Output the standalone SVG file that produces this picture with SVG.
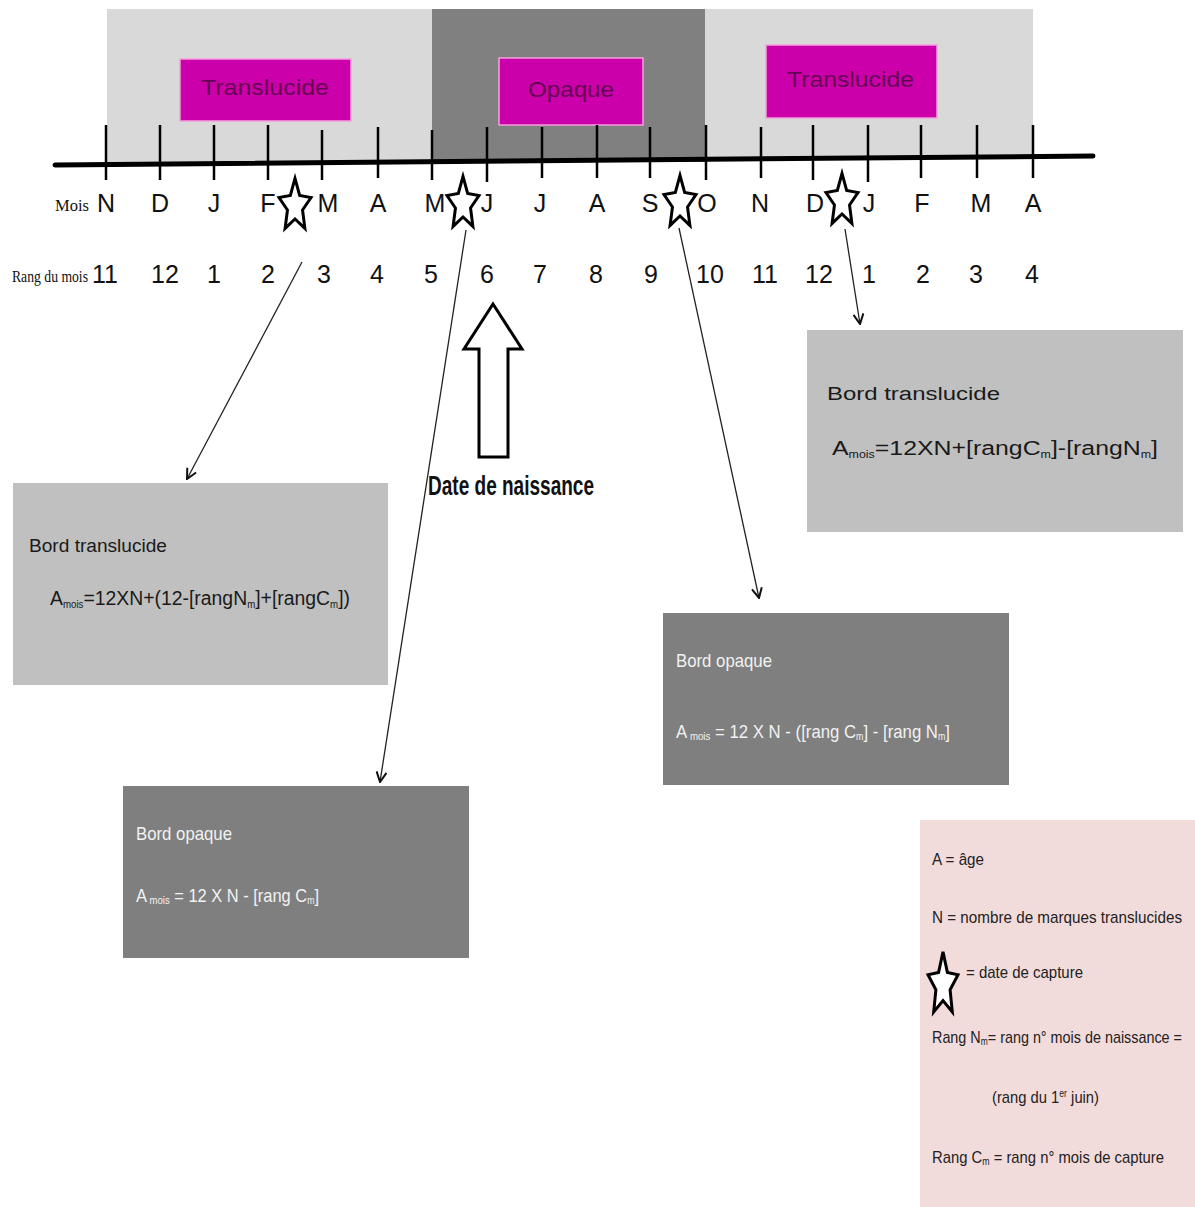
<svg xmlns="http://www.w3.org/2000/svg" xmlns:xlink="http://www.w3.org/1999/xlink" width="1195" height="1207" viewBox="0 0 1195 1207">
<style>
.bandL{fill:#d9d9d9}
.bandD{fill:#808080}
.mag{fill:#cc00aa;stroke:#f5a0dc;stroke-width:1.5}
.magt{font-family:"Liberation Sans",Arial,sans-serif;font-size:22px;fill:#660055}
.tick{stroke:#000;stroke-width:2.5}
.mon{font-family:"Liberation Sans Narrow","Liberation Sans",sans-serif;font-size:25px;fill:#111;text-anchor:middle}
.num{font-family:"Liberation Sans Narrow","Liberation Sans",sans-serif;font-size:25px;fill:#111;text-anchor:middle}
.ser{font-family:"Liberation Serif",serif;fill:#111}
.star{fill:#fff;stroke:#000;stroke-width:3;stroke-linejoin:miter}
.conn{stroke:#222;stroke-width:1.3;fill:none;marker-end:url(#ah)}
.boxL{fill:#c0c0c0}
.boxD{fill:#7f7f7f}
.tl{font-family:"Liberation Sans Narrow","Liberation Sans",sans-serif;fill:#1a1a1a}
.td{font-family:"Liberation Sans Narrow","Liberation Sans",sans-serif;fill:#f2f2f2}
.tw{font-family:"Liberation Sans",Arial,sans-serif;fill:#1a1a1a}
.leg{font-family:"Liberation Sans Narrow","Liberation Sans",sans-serif;font-size:17px;fill:#222}
</style>
<defs>
<marker id="ah" viewBox="0 0 12 12" refX="11" refY="6" markerWidth="12" markerHeight="12" markerUnits="userSpaceOnUse" orient="auto">
<path d="M1,1 L11,6 L1,11" fill="none" stroke="#111" stroke-width="2"/>
</marker>
<path id="star" class="star" d="M0,-27.6 L4.65,-10.5 L16,-8.5 L7.53,4 L9.9,22.4 L0,13 L-9.9,22.4 L-7.53,4 L-16,-8.5 L-4.65,-10.5 Z"/>
<path id="starTall" class="star" d="M0,-33.1 L4.4,-12.6 L15,-10.2 L7.1,4.8 L9.3,26.9 L0,15.6 L-9.3,26.9 L-7.1,4.8 L-15,-10.2 L-4.4,-12.6 Z"/>
</defs>
<rect width="1195" height="1207" fill="#fff"/>

<g id="bands">
<rect class="bandL" x="107" y="9" width="325" height="153"/>
<rect class="bandD" x="432" y="9" width="273" height="153"/>
<rect class="bandL" x="705" y="9" width="328" height="150"/>
</g>

<g id="label-translucide-1">
<rect class="mag" x="180" y="59" width="171" height="62"/>
<text class="magt" x="201" y="95" textLength="128" lengthAdjust="spacingAndGlyphs">Translucide</text>
</g>
<g id="label-opaque">
<rect class="mag" x="499" y="58" width="144" height="67" stroke="#ffd0f0"/>
<text class="magt" x="528" y="97" textLength="86" lengthAdjust="spacingAndGlyphs">Opaque</text>
</g>
<g id="label-translucide-2">
<rect class="mag" x="766" y="45" width="171" height="73"/>
<text class="magt" x="787" y="87" textLength="127" lengthAdjust="spacingAndGlyphs">Translucide</text>
</g>

<g id="axis">
<line x1="55" y1="165" x2="1093" y2="156" stroke="#000" stroke-width="5" stroke-linecap="round"/>
<g class="tick">
<line x1="106" y1="125" x2="106" y2="180"/>
<line x1="160" y1="125" x2="160" y2="180"/>
<line x1="214" y1="125" x2="214" y2="180"/>
<line x1="268" y1="125" x2="268" y2="180"/>
<line x1="322" y1="130" x2="322" y2="180"/>
<line x1="378" y1="127" x2="378" y2="178"/>
<line x1="432" y1="130" x2="432" y2="180"/>
<line x1="487" y1="127" x2="487" y2="182"/>
<line x1="542" y1="127" x2="542" y2="178"/>
<line x1="597" y1="125" x2="597" y2="178"/>
<line x1="650" y1="127" x2="650" y2="178"/>
<line x1="706" y1="125" x2="706" y2="180"/>
<line x1="761" y1="127" x2="761" y2="178"/>
<line x1="813" y1="125" x2="813" y2="180"/>
<line x1="868" y1="125" x2="868" y2="182"/>
<line x1="921" y1="125" x2="921" y2="178"/>
<line x1="977" y1="125" x2="977" y2="178"/>
<line x1="1033" y1="125" x2="1033" y2="178"/>
</g>
</g>

<g id="months">
<text class="ser" x="55" y="211" font-size="16" textLength="34" lengthAdjust="spacingAndGlyphs">Mois</text>
<text class="mon" x="106" y="212">N</text>
<text class="mon" x="160" y="212">D</text>
<text class="mon" x="214" y="212">J</text>
<text class="mon" x="268" y="212">F</text>
<text class="mon" x="328" y="212">M</text>
<text class="mon" x="378" y="212">A</text>
<text class="mon" x="435" y="212">M</text>
<text class="mon" x="487" y="212">J</text>
<text class="mon" x="540" y="212">J</text>
<text class="mon" x="597" y="212">A</text>
<text class="mon" x="650" y="212">S</text>
<text class="mon" x="707" y="212">O</text>
<text class="mon" x="760" y="212">N</text>
<text class="mon" x="815" y="212">D</text>
<text class="mon" x="869" y="212">J</text>
<text class="mon" x="922" y="212">F</text>
<text class="mon" x="981" y="212">M</text>
<text class="mon" x="1033" y="212">A</text>
</g>

<g id="ranks">
<text class="ser" x="12" y="282" font-size="17" textLength="76" lengthAdjust="spacingAndGlyphs">Rang du mois</text>
<text class="num" x="105" y="283">11</text>
<text class="num" x="165" y="283">12</text>
<text class="num" x="214" y="283">1</text>
<text class="num" x="268" y="283">2</text>
<text class="num" x="324" y="283">3</text>
<text class="num" x="377" y="283">4</text>
<text class="num" x="431" y="283">5</text>
<text class="num" x="487" y="283">6</text>
<text class="num" x="540" y="283">7</text>
<text class="num" x="596" y="283">8</text>
<text class="num" x="651" y="283">9</text>
<text class="num" x="710" y="283">10</text>
<text class="num" x="765" y="283">11</text>
<text class="num" x="819" y="283">12</text>
<text class="num" x="869" y="283">1</text>
<text class="num" x="923" y="283">2</text>
<text class="num" x="976" y="283">3</text>
<text class="num" x="1032" y="283">4</text>
</g>

<g id="capture-stars">
<use xlink:href="#star" href="#star" x="295" y="206"/>
<use xlink:href="#star" href="#star" x="463" y="204"/>
<use xlink:href="#star" href="#star" x="680" y="203"/>
<use xlink:href="#star" href="#star" x="842" y="201"/>
</g>

<g id="birth-arrow">
<path d="M493,304 L522,349 L508,349 L508,457 L479,457 L479,349 L464,349 Z" fill="#fff" stroke="#000" stroke-width="3" stroke-linejoin="miter"/>
<text x="428" y="495" font-family="'Liberation Sans Narrow','Liberation Sans',sans-serif" font-size="27" font-weight="bold" fill="#111" textLength="166" lengthAdjust="spacingAndGlyphs">Date de naissance</text>
</g>

<g id="connectors">
<line class="conn" x1="302" y1="262" x2="187" y2="479"/>
<line class="conn" x1="466" y1="230" x2="380" y2="782"/>
<line class="conn" x1="679" y1="228" x2="759" y2="598"/>
<line class="conn" x1="845" y1="229" x2="860" y2="324"/>
</g>

<g id="box-translucide-left">
<rect class="boxL" x="13" y="483" width="375" height="202"/>
<text class="tl" x="29" y="552" font-size="18" textLength="138" lengthAdjust="spacingAndGlyphs">Bord translucide</text>
<text class="tl" x="50" y="605" font-size="20" textLength="300" lengthAdjust="spacingAndGlyphs">A<tspan font-size="10" dy="3">mois</tspan><tspan dy="-3">=12XN+(12-[rangN</tspan><tspan font-size="10" dy="3">m</tspan><tspan dy="-3">]+[rangC</tspan><tspan font-size="10" dy="3">m</tspan><tspan dy="-3">])</tspan></text>
</g>

<g id="box-translucide-right">
<rect class="boxL" x="807" y="330" width="376" height="202"/>
<text class="tw" x="827" y="400" font-size="18" textLength="173" lengthAdjust="spacingAndGlyphs">Bord translucide</text>
<text class="tw" x="832" y="455" font-size="20" textLength="326" lengthAdjust="spacingAndGlyphs">A<tspan font-size="10" dy="3">mois</tspan><tspan dy="-3">=12XN+[rangC</tspan><tspan font-size="10" dy="3">m</tspan><tspan dy="-3">]-[rangN</tspan><tspan font-size="10" dy="3">m</tspan><tspan dy="-3">]</tspan></text>
</g>

<g id="box-opaque-middle">
<rect class="boxD" x="663" y="613" width="346" height="172"/>
<text class="td" x="676" y="667" font-size="19" textLength="96" lengthAdjust="spacingAndGlyphs">Bord opaque</text>
<text class="td" x="676" y="738" font-size="19" textLength="274" lengthAdjust="spacingAndGlyphs">A<tspan font-size="11" dy="2"> mois</tspan><tspan dy="-2"> = 12 X N - ([rang C</tspan><tspan font-size="10" dy="2">m</tspan><tspan dy="-2">] - [rang N</tspan><tspan font-size="10" dy="2">m</tspan><tspan dy="-2">]</tspan></text>
</g>

<g id="box-opaque-bottom">
<rect class="boxD" x="123" y="786" width="346" height="172"/>
<text class="td" x="136" y="840" font-size="19" textLength="96" lengthAdjust="spacingAndGlyphs">Bord opaque</text>
<text class="td" x="136" y="902" font-size="19" textLength="183" lengthAdjust="spacingAndGlyphs">A<tspan font-size="11" dy="2"> mois</tspan><tspan dy="-2"> = 12 X N - [rang C</tspan><tspan font-size="10" dy="2">m</tspan><tspan dy="-2">]</tspan></text>
</g>

<g id="legend">
<rect x="920" y="820" width="275" height="387" fill="#f2dcdb"/>
<text class="leg" x="932" y="865" textLength="52" lengthAdjust="spacingAndGlyphs">A = âge</text>
<text class="leg" x="932" y="923" textLength="250" lengthAdjust="spacingAndGlyphs">N = nombre de marques translucides</text>
<use xlink:href="#starTall" href="#starTall" x="943" y="985"/>
<text class="leg" x="966" y="978" textLength="117" lengthAdjust="spacingAndGlyphs">= date de capture</text>
<text class="leg" x="932" y="1043" textLength="250" lengthAdjust="spacingAndGlyphs">Rang N<tspan font-size="10" dy="2">m</tspan><tspan dy="-2">= rang n° mois de naissance =</tspan></text>
<text class="leg" x="992" y="1103" textLength="107" lengthAdjust="spacingAndGlyphs">(rang du 1<tspan font-size="10" dy="-6">er</tspan><tspan dy="6"> juin)</tspan></text>
<text class="leg" x="932" y="1163" textLength="232" lengthAdjust="spacingAndGlyphs">Rang C<tspan font-size="10" dy="2">m</tspan><tspan dy="-2"> = rang n° mois de capture</tspan></text>
</g>
</svg>
